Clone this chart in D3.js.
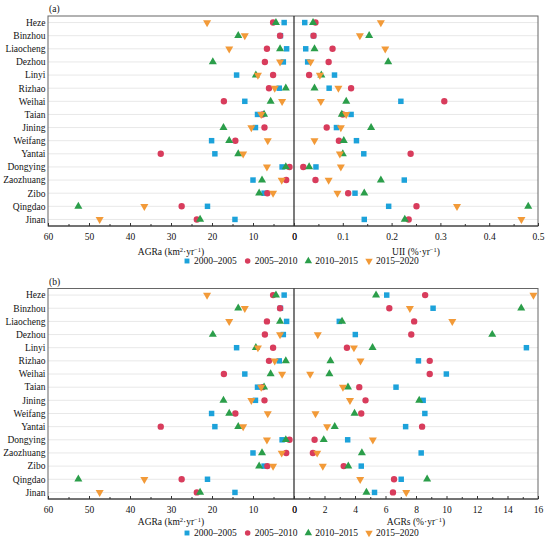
<!DOCTYPE html>
<html><head><meta charset="utf-8">
<script src="https://cdn.jsdelivr.net/npm/d3@7"></script>
<style>body{margin:0;background:#fff}svg{display:block}</style>
</head><body><svg id="c" width="550" height="541" font-family="'Liberation Serif','DejaVu Serif',serif"></svg>
<script>
const cities = ["Heze","Binzhou","Liaocheng","Dezhou","Linyi","Rizhao","Weihai","Taian","Jining","Weifang","Yantai","Dongying","Zaozhuang","Zibo","Qingdao","Jinan"];
const periods = ["2000–2005","2005–2010","2010–2015","2015–2020"];
// AGRa (km²·yr⁻¹), one array per period, in city order
const agra2000 = [2.4,3.3,1.8,2.6,14.0,3.6,12.0,8.9,9.4,20.1,19.3,2.9,10.0,7.3,21.1,14.4];
const agra2005 = [5.1,3.4,6.6,7.1,5.1,6.1,17.1,7.7,7.2,14.3,32.5,1.1,1.9,6.5,27.4,23.7];
const agra2010 = [4.4,13.6,3.4,19.8,9.3,2.0,5.7,7.3,17.2,15.8,13.6,2.0,7.8,8.5,52.6,22.9];
const agra2015 = [21.2,12.0,15.8,3.4,8.8,4.7,2.9,8.0,10.4,6.4,12.4,6.6,3.0,5.1,36.5,47.4];
// UII (%·yr⁻¹)
const uii2000 = [0.022,0.040,0.024,0.028,0.083,0.072,0.219,0.117,0.087,0.128,0.143,0.045,0.226,0.125,0.194,0.144];
const uii2005 = [0.044,0.040,0.079,0.071,0.031,0.117,0.308,0.100,0.067,0.092,0.239,0.019,0.044,0.111,0.251,0.235];
const uii2010 = [0.039,0.154,0.042,0.193,0.056,0.042,0.107,0.098,0.158,0.102,0.100,0.031,0.178,0.144,0.480,0.227];
const uii2015 = [0.178,0.135,0.187,0.034,0.053,0.091,0.055,0.107,0.096,0.042,0.094,0.096,0.071,0.089,0.334,0.466];
// AGRs (%·yr⁻¹)
const agrs2000 = [6.08,9.12,2.97,4.02,15.24,8.16,9.99,6.69,8.47,8.58,7.32,3.52,8.34,4.41,7.03,5.28];
const agrs2005 = [8.60,6.25,7.88,7.69,3.47,8.90,8.90,4.28,4.69,4.41,8.40,1.35,1.24,3.26,6.56,6.49];
const agrs2010 = [5.38,14.9,3.15,13.0,5.15,2.39,2.32,3.54,8.21,3.97,2.67,1.95,4.45,3.56,8.73,4.75];
const agrs2015 = [15.7,7.60,10.38,1.56,3.93,4.36,1.06,3.21,3.67,1.41,2.17,5.17,1.52,1.89,4.34,7.36];

const leftTicks = [60,50,40,30,20,10,0];
const uiiTicks = [0,0.1,0.2,0.3,0.4,0.5];
const agrsTicks = [0,2,4,6,8,10,12,14,16];

const colors = ["#1ca2da","#d83c5c","#2b9e4a","#f29a38"];
const shapes = [d3.symbolSquare, d3.symbolCircle, d3.symbolTriangle, d3.symbolTriangle];
const rot = [0,0,0,180];
const sizes = [30,32,28,28];
const FS = 9.5;

const svg = d3.select("#c");
const L = 48, M = 294, R = 538;

function panel(cfg){
  const g = svg.append("g");
  const y = d3.scalePoint().domain(cities).range([cfg.top, cfg.bottom]).padding(0.5);
  const xl = d3.scaleLinear().domain([60,0]).range([L,M]);
  const xr = d3.scaleLinear().domain(cfg.rDomain).range([M,R]);
  g.selectAll("line.grid").data(cities).join("line")
    .attr("x1",L).attr("x2",R).attr("y1",d=>y(d)).attr("y2",d=>y(d))
    .attr("stroke","#e8e8e8").attr("stroke-width",1);
  g.append("rect").attr("x",L).attr("y",cfg.top).attr("width",R-L).attr("height",cfg.bottom-cfg.top)
    .attr("fill","none").attr("stroke","#666").attr("stroke-width",1);
  g.append("line").attr("x1",M).attr("x2",M).attr("y1",cfg.top).attr("y2",cfg.bottom)
    .attr("stroke","#222").attr("stroke-width",1.2);
  g.append("line").attr("x1",L).attr("x2",R).attr("y1",cfg.bottom).attr("y2",cfg.bottom)
    .attr("stroke","#333").attr("stroke-width",1);
  function axis(x, major, minor, fmt){
    const a = g.append("g").attr("transform",`translate(0,${cfg.bottom})`)
      .call(d3.axisBottom(x).tickValues(major).tickSize(-3).tickPadding(7).tickFormat(fmt));
    a.select(".domain").remove();
    a.attr("font-family",null);
    a.selectAll("text").attr("font-size",FS).attr("fill","#111");
    a.selectAll("line").attr("stroke","#333");
    const b = g.append("g").attr("transform",`translate(0,${cfg.bottom})`)
      .call(d3.axisBottom(x).tickValues(minor).tickSize(-2).tickFormat(""));
    b.select(".domain").remove();
    b.selectAll("line").attr("stroke","#333");
  }
  axis(xl, leftTicks, [55,45,35,25,15,5], d3.format("d"));
  axis(xr, cfg.rTicks, cfg.rMinor, cfg.rFmt);
  g.selectAll("text.city").data(cities).join("text")
    .attr("x",L-2.5).attr("y",d=>y(d)).attr("dy","0.35em").attr("text-anchor","end")
    .attr("font-size",FS).attr("fill","#111").text(d=>d);
  const lSeries = [agra2000,agra2005,agra2010,agra2015];
  periods.forEach((p,i)=>{
    const sym = d3.symbol().type(shapes[i]).size(sizes[i]);
    g.selectAll(null).data(lSeries[i]).join("path")
      .attr("d",sym).attr("fill",colors[i])
      .attr("transform",(d,j)=>`translate(${xl(d)},${y(cities[j])}) rotate(${rot[i]})`);
    g.selectAll(null).data(cfg.rSeries[i]).join("path")
      .attr("d",sym).attr("fill",colors[i])
      .attr("transform",(d,j)=>`translate(${xr(d)},${y(cities[j])}) rotate(${rot[i]})`);
  });
  g.append("text").attr("x",L+1).attr("y",cfg.top-4).attr("font-size",FS).attr("fill","#111").text(cfg.label);
  g.append("text").attr("x",(L+M)/2).attr("y",cfg.titleY).attr("text-anchor","middle").attr("font-size",FS).attr("fill","#111")
    .html('AGRa (km<tspan dy="-3" font-size="6.5">2</tspan><tspan dy="3">·yr</tspan><tspan dy="-3" font-size="6.5">−1</tspan><tspan dy="3">)</tspan>');
  g.append("text").attr("x",(M+R)/2).attr("y",cfg.titleY).attr("text-anchor","middle").attr("font-size",FS).attr("fill","#111")
    .html(cfg.rTitle+' (%·yr<tspan dy="-3" font-size="6.5">−1</tspan><tspan dy="3">)</tspan>');
  const lx = d3.scalePoint().domain(periods).range([187,369]);
  periods.forEach((p,i)=>{
    const sym = d3.symbol().type(shapes[i]).size(24);
    g.append("path").attr("d",sym).attr("fill",colors[i])
      .attr("transform",`translate(${lx(p)},${cfg.legendY}) rotate(${rot[i]})`);
    g.append("text").attr("x",lx(p)+7).attr("y",cfg.legendY).attr("dy","0.35em")
      .attr("font-size",FS).attr("fill","#111").text(p);
  });
}

panel({top:16,bottom:226,label:"(a)",rDomain:[0,0.5],rTicks:uiiTicks,rMinor:[0.05,0.15,0.25,0.35,0.45],
  rFmt:d3.format("~g"),rSeries:[uii2000,uii2005,uii2010,uii2015],rTitle:"UII",titleY:255,legendY:261});
panel({top:288.5,bottom:499,label:"(b)",rDomain:[0,16],rTicks:agrsTicks,rMinor:[1,3,5,7,9,11,13,15],
  rFmt:d3.format("d"),rSeries:[agrs2000,agrs2005,agrs2010,agrs2015],rTitle:"AGRs",titleY:525,legendY:533});
</script></body></html>
